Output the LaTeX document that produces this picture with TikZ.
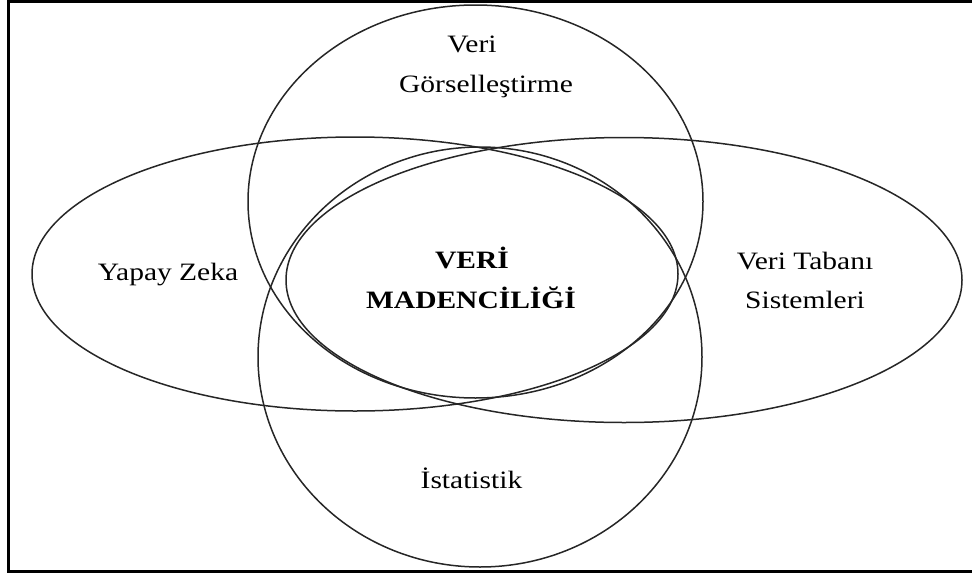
\documentclass[tikz,border=0pt]{standalone}
\usepackage{fontspec}
\setmainfont[FakeStretch=1.18]{Liberation Serif}
\begin{document}
\begin{tikzpicture}[x=1pt,y=-1pt,
  venn/.style={draw=black!85,line width=1.5pt},
  lbl/.style={font=\fontsize{25}{30}\selectfont,anchor=base,inner sep=0pt},
  blbl/.style={font=\fontsize{25}{30}\selectfont\bfseries,anchor=base,inner sep=0pt}]
\useasboundingbox (0,0) rectangle (972,573);
\draw[line width=3pt] (976,1.5) -- (8.5,1.5) -- (8.5,571) -- (976,571);
% Veri Gorsellestirme
\draw[venn] (475.5,201.5) ellipse [x radius=227.5,y radius=196.5];
% Istatistik
\draw[venn] (480,357) ellipse [x radius=222,y radius=210];
% Yapay Zeka
\draw[venn] (355,274) ellipse [x radius=323,y radius=137];
% Veri Tabani
\draw[venn] (624,280) ellipse [x radius=338,y radius=142.5];
\node[lbl] (vg1) at (472,52.7) {Veri};
\node[lbl] (vg2) at (486,92.5) {Görselleştirme};
\node[lbl] (yz) at (168,280) {Yapay Zeka};
\node[lbl] (vt1) at (805,269) {Veri Tabanı};
\node[lbl] (vt2) at (805,308) {Sistemleri};
\node[blbl] (vm1) at (472,268) {VERİ};
\node[blbl] (vm2) at (471,308) {MADENCİLİĞİ};
\node[lbl] (ist) at (471.5,488) {İstatistik};
\end{tikzpicture}
\end{document}
